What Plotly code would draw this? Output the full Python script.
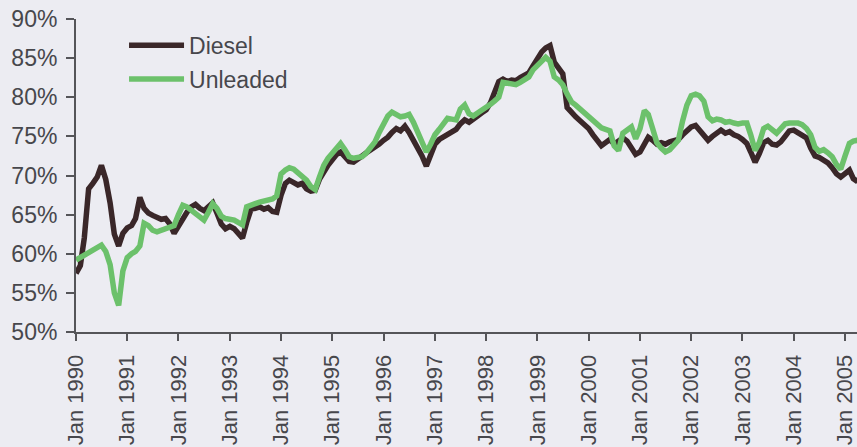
import pandas as pd
import plotly.graph_objects as go

# Monthly ratio (per cent) for diesel and unleaded, Jan 1990 onwards
diesel = [
    # 1990
    57.5, 58.5, 62.0, 68.3, 69.0, 69.8, 71.3, 69.5, 66.5, 62.5, 61.0, 62.6,
    # 1991
    63.3, 63.6, 64.5, 67.2, 65.8, 65.2, 64.9, 64.6, 64.4, 64.5, 63.8, 62.6,
    # 1992
    63.5, 64.7, 65.3, 66.0, 66.3, 65.8, 65.5, 66.0, 66.5, 65.2, 63.8, 63.2,
    # 1993
    63.5, 63.2, 62.6, 62.0, 64.0, 65.7, 65.8, 66.0, 65.7, 65.9, 65.4, 65.3,
    # 1994
    67.5, 69.0, 69.4, 69.1, 68.8, 69.0, 68.3, 68.0, 68.1, 69.5, 70.6, 71.3,
    # 1995
    72.0, 72.7, 73.0, 72.4, 71.8, 71.7, 72.0, 72.5, 72.9, 73.2, 73.6, 74.0,
    # 1996
    74.5, 74.9, 75.5, 76.0, 75.7, 76.3, 75.5, 74.5, 73.6, 72.5, 71.2, 72.5,
    # 1997
    74.0, 74.6, 74.9, 75.2, 75.5, 75.9, 76.6, 77.1, 76.8, 77.3, 77.6, 78.0,
    # 1998
    78.4, 79.3, 80.8, 82.0, 82.3, 82.0, 82.2, 82.1, 82.5, 82.8, 83.1, 84.0,
    # 1999
    85.0, 85.8, 86.3, 86.6, 84.5, 83.8, 83.0, 78.7, 78.0, 77.5, 77.0, 76.5,
    # 2000
    76.0, 75.2, 74.5, 73.8, 74.2, 74.6, 74.0, 74.3, 74.8, 74.4, 73.5, 72.7,
    # 2001
    73.0, 74.0, 74.9, 74.5, 74.0, 74.2, 74.0, 74.3, 74.4, 74.6, 75.2, 75.8,
    # 2002
    76.2, 76.4, 75.8, 75.0, 74.5, 75.0, 75.5, 75.8, 75.4, 75.6, 75.2, 75.0,
    # 2003
    74.6, 74.1, 73.0, 71.7, 72.8, 74.2, 74.5, 74.0, 73.9, 74.3, 75.0, 75.7,
    # 2004
    75.8, 75.4, 75.0, 74.8, 73.5, 72.5, 72.3, 72.0, 71.6, 71.0, 70.2, 69.8,
    # 2005
    70.3, 70.7, 69.6, 69.2,
]

unleaded = [
    # 1990
    59.2, 59.5, 59.8, 60.1, 60.5, 60.8, 61.1, 60.3, 58.6, 55.0, 53.4, 57.8,
    # 1991
    59.5, 60.0, 60.3, 61.0, 63.9, 63.6, 63.0, 62.8, 63.0, 63.2, 63.4, 63.6,
    # 1992
    65.0, 66.2, 66.0, 65.6, 65.2, 64.8, 64.3, 65.3, 66.4, 65.8, 64.8, 64.5,
    # 1993
    64.4, 64.3, 64.0, 63.7, 66.0, 66.3, 66.4, 66.6, 66.7, 66.9, 67.0, 67.4,
    # 1994
    70.2, 70.7, 71.0, 70.8, 70.3, 70.0, 69.4, 68.6, 68.2, 69.8, 71.3, 72.2,
    # 1995
    72.8, 73.5, 74.1, 73.3, 72.4, 72.2, 72.3, 72.4, 72.9, 73.6, 74.3, 75.5,
    # 1996
    76.5, 77.6, 78.1, 77.8, 77.5, 77.6, 77.8, 76.8, 75.4, 74.2, 73.0, 74.0,
    # 1997
    75.2, 75.9, 76.6, 77.3, 77.2, 77.1, 78.5, 79.0, 77.9, 77.6, 78.0, 78.3,
    # 1998
    78.7, 79.1, 79.5, 80.0, 81.9, 81.8, 81.7, 81.6, 81.9, 82.2, 82.6, 83.5,
    # 1999
    84.1, 84.7, 85.1, 84.6, 82.6, 82.2, 81.6, 80.4, 79.4, 79.0, 78.5, 78.0,
    # 2000
    77.4, 76.9, 76.4, 76.1, 75.9, 75.7, 73.8, 73.2, 75.4, 75.9, 76.2, 74.7,
    # 2001
    76.0, 78.3, 77.8, 76.0, 74.2, 73.5, 73.0, 73.3, 73.9, 74.5, 77.0, 79.0,
    # 2002
    80.2, 80.4, 80.2, 79.5, 77.5, 77.0, 77.2, 77.1, 76.8, 76.9, 76.7, 76.6,
    # 2003
    76.7, 76.7, 75.2, 73.2, 74.2, 76.0, 76.3, 75.8, 75.4, 76.0, 76.6, 76.7,
    # 2004
    76.7, 76.7, 76.5, 76.0, 75.2, 73.6, 73.1, 73.3, 72.9, 72.4, 71.4, 70.8,
    # 2005
    72.5, 74.1, 74.4, 74.5,
]

years = list(range(1990, 2006))
tick_labels = [f"Jan {y}" for y in years]

months = pd.date_range("1990-01-01", periods=len(diesel), freq="MS")
tick_dates = [pd.Timestamp(f"{y}-01-01") for y in years]

BG = "#ececf2"
AXIS = "#555559"
TEXT = "#47474c"
FONT = "Liberation Sans, Arial, sans-serif"

fig = go.Figure()
fig.add_trace(go.Scatter(
    x=months, y=diesel, name="Diesel", mode="lines",
    line=dict(color="#3a2729", width=5.5), legendgroup="d",
))
fig.add_trace(go.Scatter(
    x=months, y=unleaded, name="Unleaded", mode="lines",
    line=dict(color="#6cc16b", width=5.5), legendgroup="u",
))

fig.update_layout(
    width=857, height=447,
    margin=dict(l=76, r=0, t=19, b=115),
    paper_bgcolor=BG, plot_bgcolor=BG,
    font=dict(family=FONT, color=TEXT, size=19),
    showlegend=True,
    legend=dict(
        x=0.0615, y=0.985, xanchor="left", yanchor="top",
        bgcolor="rgba(0,0,0,0)", font=dict(size=23, color=TEXT),
        traceorder="grouped", tracegroupgap=1, itemwidth=55,
    ),
    xaxis=dict(
        type="date",
        range=["1990-01-01", "2005-03-27"],
        tickvals=tick_dates, ticktext=tick_labels, tickangle=-90,
        showgrid=False, zeroline=False,
        showline=True, linecolor=AXIS, linewidth=2,
        ticks="outside", ticklen=7, tickwidth=2, tickcolor=AXIS,
        tickfont=dict(size=22, color=TEXT),
        ticklabelstandoff=5, ticklabeloverflow="allow",
    ),
    yaxis=dict(
        range=[50, 90], dtick=5, tick0=50, ticksuffix="%",
        showgrid=False, zeroline=False,
        showline=True, linecolor=AXIS, linewidth=2,
        ticks="outside", ticklen=8, tickwidth=2, tickcolor=AXIS,
        tickfont=dict(size=23, color=TEXT),
        ticklabelstandoff=4,
    ),
)

fig.write_html("out.html")
